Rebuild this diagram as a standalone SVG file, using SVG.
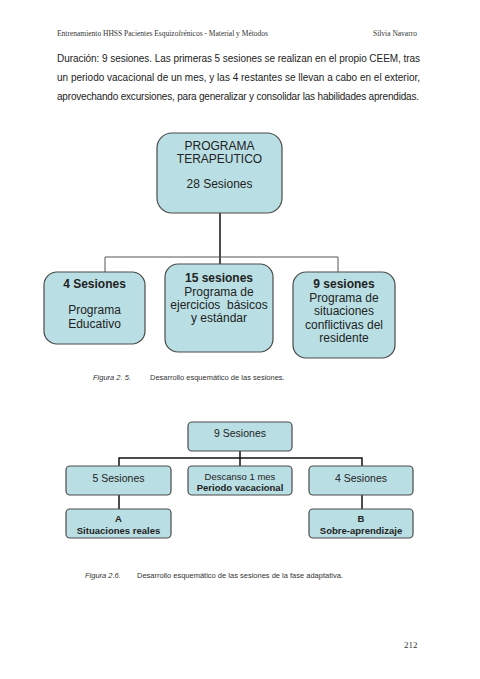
<svg xmlns="http://www.w3.org/2000/svg" width="480" height="679" viewBox="0 0 480 679">
<style>
.hdr{font-family:"Liberation Serif",serif;font-size:7.5px;fill:#333}
.body{font-family:"Liberation Sans",Arial,sans-serif;font-size:10px;fill:#222}
.box{fill:#b9dfe4;stroke:#4a4a4a;stroke-width:1.2}
.t{font-family:"Liberation Sans",Arial,sans-serif;font-size:12px;fill:#222;text-anchor:middle}
.b{font-weight:bold}
.s{font-family:"Liberation Sans",Arial,sans-serif;font-size:10.5px;fill:#222;text-anchor:middle}
.xs{font-family:"Liberation Sans",Arial,sans-serif;font-size:9.5px;fill:#222;text-anchor:middle}
.cap{font-family:"Liberation Sans",Arial,sans-serif;font-size:7.5px;fill:#333}
.ln{stroke:#111;stroke-width:1.5;fill:none}
.ln2{stroke:#555;stroke-width:1;fill:none}
</style>
<rect width="480" height="679" fill="#fff"/>
<text class="hdr" x="57" y="36">Entrenamiento HHSS Pacientes Esquizofrénicos - Material y Métodos</text>
<text class="hdr" x="373" y="36">Silvia Navarro</text>
<text class="body" x="57" y="62" textLength="363" lengthAdjust="spacing">Duración: 9 sesiones. Las primeras 5 sesiones se realizan en el propio CEEM, tras</text>
<text class="body" x="57" y="81" textLength="363" lengthAdjust="spacing">un periodo vacacional de un mes, y las 4 restantes se llevan a cabo en el exterior,</text>
<text class="body" x="57" y="100" textLength="362" lengthAdjust="spacing">aprovechando excursiones, para generalizar y consolidar las habilidades aprendidas.</text>

<g id="connectors">
<path class="ln" d="M220 213 V264"/>
<path class="ln2" d="M105 272 V257 H338 V272"/>
<path class="ln" d="M240 451 V466"/>
<path class="ln" d="M119 466 V458 H362 V466"/>
<path class="ln" d="M119 495 V509"/>
<path class="ln" d="M362 495 V509"/>
</g>

<g id="programa">
<rect class="box" x="157" y="133" width="125" height="80" rx="15"/>
<text class="t" x="219.5" y="150">PROGRAMA</text>
<text class="t" x="219.5" y="163">TERAPEUTICO</text>
<text class="t" x="219.5" y="188">28 Sesiones</text>
</g>
<g id="s4">
<rect class="box" x="44" y="272" width="101" height="72" rx="13"/>
<text class="t b" x="94.5" y="288">4 Sesiones</text>
<text class="t" x="94.5" y="314">Programa</text>
<text class="t" x="94.5" y="328">Educativo</text>
</g>
<g id="s15">
<rect class="box" x="165" y="264" width="108" height="88" rx="13"/>
<text class="t b" x="219" y="282">15 sesiones</text>
<text class="t" x="219" y="296">Programa de</text>
<text class="t" x="219" y="309" xml:space="preserve">ejercicios  básicos</text>
<text class="t" x="219" y="322">y estándar</text>
</g>
<g id="s9">
<rect class="box" x="293" y="272" width="102" height="86" rx="13"/>
<text class="t b" x="344" y="288">9 sesiones</text>
<text class="t" x="344" y="302">Programa de</text>
<text class="t" x="344" y="315">situaciones</text>
<text class="t" x="344" y="329">conflictivas del</text>
<text class="t" x="344" y="342">residente</text>
</g>
<text class="cap" x="93" y="380" font-style="italic">Figura 2. 5.</text>
<text class="cap" x="150" y="380">Desarrollo esquemático de las sesiones.</text>

<g id="n9">
<rect class="box" x="188" y="422" width="104" height="29" rx="4"/>
<text class="s" x="240" y="437">9 Sesiones</text>
</g>
<g id="n5">
<rect class="box" x="66" y="466" width="105" height="29" rx="4"/>
<text class="s" x="118.5" y="482">5 Sesiones</text>
</g>
<g id="descanso">
<rect class="box" x="188" y="466" width="104" height="29" rx="4"/>
<text class="xs" x="240" y="480">Descanso 1 mes</text>
<text class="xs b" x="240" y="491">Periodo vacacional</text>
</g>
<g id="n4">
<rect class="box" x="309" y="466" width="104" height="29" rx="4"/>
<text class="s" x="361" y="482">4 Sesiones</text>
</g>
<g id="a">
<rect class="box" x="66" y="509" width="105" height="29" rx="4"/>
<text class="xs b" x="118.5" y="522">A</text>
<text class="xs b" x="118.5" y="534">Situaciones reales</text>
</g>
<g id="b">
<rect class="box" x="309" y="509" width="104" height="29" rx="4"/>
<text class="xs b" x="361" y="522">B</text>
<text class="xs b" x="361" y="534">Sobre-aprendizaje</text>
</g>
<text class="cap" x="85" y="578" font-style="italic">Figura 2.6.</text>
<text class="cap" x="137" y="578">Desarrollo esquemático de las sesiones de la fase adaptativa.</text>
<text class="hdr" x="404" y="648" style="font-size:9px">212</text>
</svg>
